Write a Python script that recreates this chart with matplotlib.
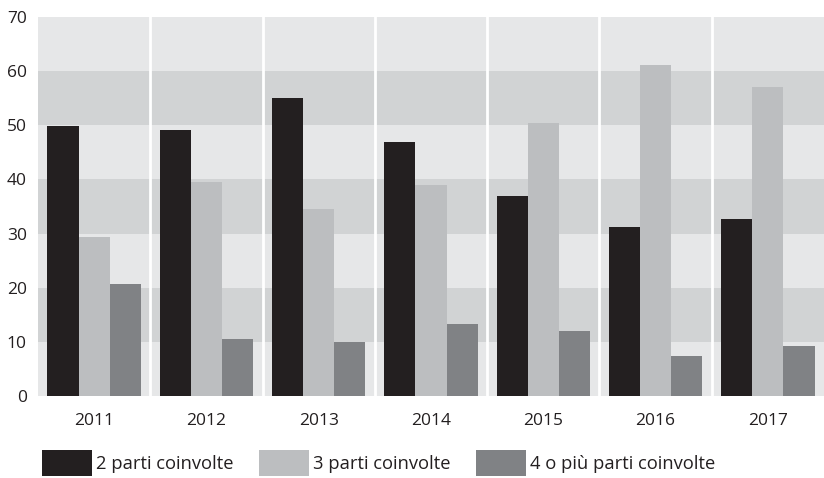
import matplotlib.pyplot as plt
import numpy as np

plt.rcParams['font.family'] = ['Open Sans', 'DejaVu Sans']

years = ['2011', '2012', '2013', '2014', '2015', '2016', '2017']
parti_2 = [49.8, 49.2, 55.0, 47.0, 37.0, 31.2, 32.7]
parti_3 = [29.3, 39.6, 34.5, 39.0, 50.5, 61.2, 57.0]
parti_4 = [20.7, 10.5, 10.0, 13.3, 12.0, 7.3, 9.3]
labels = ['2 parti coinvolte', '3 parti coinvolte', '4 o più parti coinvolte']
colors = ['#231f20', '#bcbec0', '#808285']

txt = '#231f20'
fig = plt.figure(figsize=(8.24, 4.78), dpi=100)
ax = fig.add_axes([38/824, 1 - 396/478, 1 - 38/824, (396 - 17)/478])

# horizontal background bands
for i, lo in enumerate(range(0, 70, 10)):
    ax.axhspan(lo, lo + 10, color='#e6e7e8' if i % 2 == 0 else '#d1d3d4', lw=0, zorder=0)
# white separators between years
for xs in np.arange(0.5, len(years) - 1, 1):
    ax.axvline(xs, color='white', lw=2, zorder=1)

x = np.arange(len(years))
w = 0.277
for k, (vals, lab, c) in enumerate(zip([parti_2, parti_3, parti_4], labels, colors)):
    ax.bar(x + (k - 1) * w, vals, w, color=c, label=lab, zorder=2, lw=0)

ax.set_xlim(-0.5, len(years) - 0.5)
ax.set_ylim(0, 70)
ax.set_yticks(range(0, 71, 10))
ax.set_xticks(x)
ax.set_xticklabels(years)
ax.tick_params(length=0, labelsize=12.5, labelcolor=txt)
ax.tick_params(axis='x', pad=12)
ax.tick_params(axis='y', pad=8)
for s in ax.spines.values():
    s.set_visible(False)

fig.legend(loc='lower left', bbox_to_anchor=(40/824, 0.0), ncol=3, frameon=False,
           fontsize=13.2, labelcolor=txt, handlelength=2.73, handleheight=1.85,
           handletextpad=0.22, columnspacing=1.4, borderpad=0, borderaxespad=0.1)

fig.savefig('out.png', dpi=100)
